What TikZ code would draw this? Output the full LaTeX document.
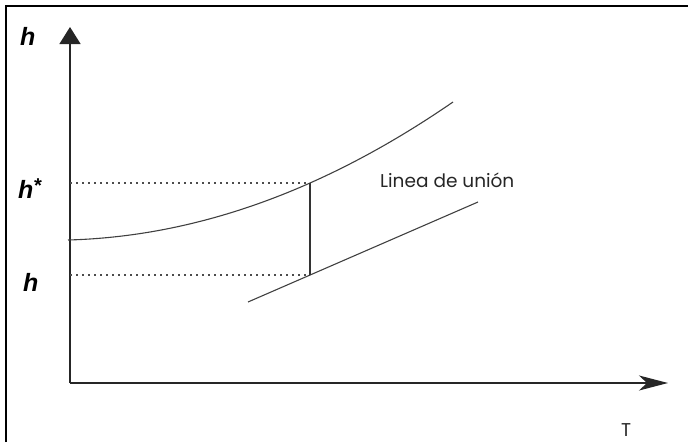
\documentclass[tikz,border=0pt]{standalone}
\usepackage{fontspec}
\setmainfont{Liberation Sans}
\newfontfamily\geofont{Poppins}
\usetikzlibrary{arrows.meta}
\tikzset{
  axis/.style={line width=1.4pt, draw=black!85},
  curve/.style={line width=1.1pt, draw=black!75},
  tie/.style={line width=1.8pt, draw=black!80},
  dots/.style={line width=1.5pt, draw=black!70, dash pattern=on 2pt off 4pt},
  hlab/.style={font=\fontsize{25}{27}\selectfont\bfseries\itshape, inner sep=0pt, anchor=base west},
  sanslab/.style={font=\geofont\fontsize{18.5}{20}\selectfont, inner sep=0pt, anchor=base west, text=black!85}
}
\begin{document}
\begin{tikzpicture}[x=1pt,y=-1pt]
\useasboundingbox (0,0) rectangle (688,442);
% frame (top and left only)
\draw[line width=2.5pt] (6,442) -- (6,6) -- (688,6);
% axes
\coordinate (O) at (70,383);
\coordinate (ytip) at (70,27);
\coordinate (xtip) at (668,383);
\draw[axis, -{Triangle[length=17pt,width=21pt]}] (O) -- (ytip);
\draw[axis, -{Stealth[length=29pt,width=15pt,inset=8pt]}] (O) -- (xtip);
% upper curve
\coordinate (u0) at (68,240);
\coordinate (u1) at (453,102);
\draw[curve] (u0) .. controls (196.5,236.5) and (324.5,190.5) .. (u1);
% lower line
\coordinate (l0) at (248,302);
\coordinate (l1) at (478,202);
\draw[curve] (l0) -- (l1);
% tie line
\coordinate (t0) at (310,183);
\coordinate (t1) at (310,275);
\draw[tie] (t0) -- (t1);
% dotted lines
\coordinate (d0) at (70,183);
\coordinate (d1) at (70,275);
\draw[dots] (d0) -- (t0);
\draw[dots] (d1) -- (t1);
% labels
\node[hlab] (hy) at (20,45) {h};
\node[hlab] (hs) at (18,198) {h\raisebox{6pt}{\fontsize{20}{20}\selectfont *}};
\node[hlab] (hl) at (23,291) {h};
\node[sanslab] (lab) at (380,187) {Linea de unión};
\node[sanslab] (T) at (621,436) {T};
\end{tikzpicture}
\end{document}
